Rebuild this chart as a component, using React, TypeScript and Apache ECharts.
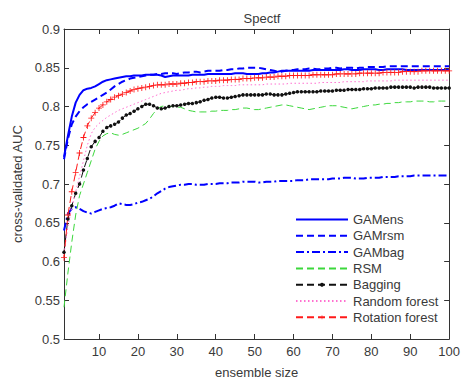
import React, { useEffect, useRef } from "react";
import * as echarts from "echarts";

const chartTitle = "Spectf";
const xName = "ensemble size";
const yName = "cross-validated AUC";
const xTicks = [10, 20, 30, 40, 50, 60, 70, 80, 90, 100];

const gamens = [
  0.735, 0.762, 0.787, 0.805, 0.815, 0.821, 0.823, 0.824, 0.826, 0.829,
  0.832, 0.834, 0.835, 0.836, 0.837, 0.838, 0.839, 0.839, 0.840, 0.840,
  0.840, 0.841, 0.841, 0.841, 0.841, 0.840, 0.838, 0.839, 0.840, 0.840,
  0.840, 0.840, 0.840, 0.841, 0.841, 0.841, 0.841, 0.842, 0.842, 0.842,
  0.842, 0.842, 0.842, 0.842, 0.843, 0.843, 0.843, 0.842, 0.842, 0.842,
  0.842, 0.843, 0.843, 0.844, 0.844, 0.845, 0.846, 0.846, 0.846, 0.846,
  0.846, 0.846, 0.846, 0.846, 0.847, 0.847, 0.847, 0.847, 0.847, 0.847,
  0.847, 0.847, 0.848, 0.848, 0.847, 0.847, 0.847, 0.848, 0.848, 0.848,
  0.848, 0.847, 0.847, 0.848, 0.848, 0.848, 0.848, 0.848, 0.847, 0.847,
  0.847, 0.847, 0.847, 0.847, 0.847, 0.847, 0.847, 0.847, 0.847, 0.847,
];

const gamrsm = [
  0.732, 0.758, 0.777, 0.787, 0.794, 0.799, 0.803, 0.806, 0.809, 0.812,
  0.815, 0.818, 0.822, 0.826, 0.829, 0.832, 0.834, 0.836, 0.837, 0.838,
  0.839, 0.840, 0.841, 0.841, 0.842, 0.842, 0.843, 0.843, 0.843, 0.842,
  0.843, 0.844, 0.844, 0.845, 0.845, 0.844, 0.845, 0.846, 0.846, 0.846,
  0.846, 0.847, 0.847, 0.848, 0.848, 0.849, 0.849, 0.850, 0.850, 0.850,
  0.850, 0.849, 0.848, 0.847, 0.846, 0.845, 0.845, 0.846, 0.847, 0.847,
  0.848, 0.848, 0.848, 0.849, 0.849, 0.848, 0.848, 0.849, 0.849, 0.850,
  0.850, 0.849, 0.850, 0.850, 0.850, 0.849, 0.850, 0.850, 0.851, 0.851,
  0.851, 0.851, 0.851, 0.852, 0.852, 0.852, 0.852, 0.852, 0.852, 0.852,
  0.852, 0.852, 0.852, 0.852, 0.852, 0.852, 0.852, 0.852, 0.852, 0.852,
];

const gambag = [
  0.640, 0.662, 0.668, 0.670, 0.668, 0.665, 0.663, 0.662, 0.664, 0.666,
  0.668, 0.669, 0.670, 0.672, 0.675, 0.674, 0.673, 0.673, 0.674, 0.676,
  0.677, 0.679, 0.681, 0.684, 0.688, 0.691, 0.694, 0.696, 0.697, 0.698,
  0.699, 0.699, 0.700, 0.700, 0.699, 0.699, 0.699, 0.700, 0.700, 0.700,
  0.701, 0.701, 0.701, 0.702, 0.702, 0.702, 0.703, 0.703, 0.703, 0.703,
  0.702, 0.702, 0.703, 0.703, 0.703, 0.704, 0.704, 0.704, 0.704, 0.704,
  0.705, 0.705, 0.705, 0.706, 0.706, 0.706, 0.706, 0.706, 0.706, 0.707,
  0.707, 0.707, 0.708, 0.708, 0.708, 0.707, 0.707, 0.707, 0.708, 0.708,
  0.708, 0.708, 0.709, 0.709, 0.709, 0.709, 0.710, 0.710, 0.710, 0.710,
  0.711, 0.711, 0.711, 0.711, 0.711, 0.711, 0.711, 0.711, 0.711, 0.711,
];

const rsm = [
  0.541, 0.585, 0.625, 0.660, 0.685, 0.700, 0.715, 0.730, 0.745, 0.755,
  0.762, 0.765, 0.766, 0.764, 0.763, 0.764, 0.766, 0.768, 0.770, 0.772,
  0.775, 0.778, 0.784, 0.791, 0.797, 0.800, 0.801, 0.800, 0.800, 0.799,
  0.799, 0.797, 0.795, 0.794, 0.793, 0.793, 0.793, 0.793, 0.794, 0.794,
  0.795, 0.795, 0.795, 0.796, 0.796, 0.797, 0.798, 0.798, 0.797, 0.796,
  0.796, 0.797, 0.798, 0.799, 0.800, 0.801, 0.802, 0.802, 0.801, 0.800,
  0.799, 0.798, 0.797, 0.796, 0.797, 0.798, 0.799, 0.800, 0.801, 0.801,
  0.801, 0.800, 0.799, 0.798, 0.797, 0.798, 0.799, 0.800, 0.801, 0.802,
  0.802, 0.803, 0.803, 0.804, 0.804, 0.805, 0.805, 0.806, 0.806, 0.806,
  0.807, 0.807, 0.807, 0.807, 0.806, 0.806, 0.807, 0.807, 0.807, 0.807,
];

const bagging = [
  0.612, 0.655, 0.672, 0.688, 0.700, 0.718, 0.733, 0.748, 0.755, 0.760,
  0.768, 0.773, 0.775, 0.777, 0.780, 0.785, 0.789, 0.791, 0.794, 0.797,
  0.800, 0.803, 0.803, 0.801, 0.798, 0.797, 0.798, 0.800, 0.801, 0.801,
  0.802, 0.803, 0.804, 0.804, 0.805, 0.806, 0.808, 0.809, 0.811, 0.812,
  0.812, 0.811, 0.811, 0.812, 0.813, 0.814, 0.815, 0.815, 0.815, 0.815,
  0.815, 0.815, 0.816, 0.816, 0.815, 0.815, 0.815, 0.816, 0.817, 0.818,
  0.819, 0.819, 0.819, 0.819, 0.819, 0.819, 0.820, 0.820, 0.820, 0.820,
  0.821, 0.821, 0.821, 0.822, 0.822, 0.822, 0.822, 0.823, 0.823, 0.823,
  0.824, 0.824, 0.824, 0.824, 0.825, 0.825, 0.825, 0.825, 0.825, 0.825,
  0.824, 0.825, 0.825, 0.825, 0.825, 0.824, 0.824, 0.824, 0.824, 0.824,
];

const randomForest = [
  0.610, 0.645, 0.670, 0.690, 0.710, 0.730, 0.750, 0.765, 0.773, 0.778,
  0.782, 0.786, 0.789, 0.792, 0.795, 0.797, 0.799, 0.801, 0.803, 0.805,
  0.807, 0.809, 0.811, 0.813, 0.815, 0.817, 0.818, 0.819, 0.820, 0.821,
  0.821, 0.822, 0.823, 0.823, 0.824, 0.824, 0.825, 0.825, 0.826, 0.826,
  0.826, 0.827, 0.827, 0.827, 0.827, 0.828, 0.828, 0.828, 0.828, 0.828,
  0.828, 0.828, 0.829, 0.829, 0.829, 0.829, 0.829, 0.829, 0.830, 0.830,
  0.830, 0.830, 0.830, 0.830, 0.830, 0.830, 0.831, 0.831, 0.831, 0.831,
  0.831, 0.831, 0.832, 0.832, 0.832, 0.832, 0.832, 0.832, 0.833, 0.833,
  0.833, 0.833, 0.833, 0.833, 0.833, 0.834, 0.834, 0.834, 0.834, 0.834,
  0.834, 0.834, 0.834, 0.834, 0.834, 0.834, 0.834, 0.834, 0.834, 0.834,
];

const rotationForest = [
  0.605, 0.660, 0.690, 0.715, 0.740, 0.760, 0.775, 0.785, 0.792, 0.798,
  0.802, 0.806, 0.809, 0.812, 0.814, 0.816, 0.818, 0.820, 0.822, 0.823,
  0.824, 0.825, 0.826, 0.827, 0.828, 0.828, 0.828, 0.829, 0.829, 0.829,
  0.830, 0.830, 0.831, 0.831, 0.832, 0.832, 0.832, 0.833, 0.833, 0.833,
  0.834, 0.834, 0.834, 0.835, 0.835, 0.835, 0.836, 0.836, 0.836, 0.837,
  0.837, 0.837, 0.838, 0.838, 0.838, 0.839, 0.839, 0.839, 0.840, 0.840,
  0.840, 0.840, 0.840, 0.840, 0.841, 0.841, 0.841, 0.841, 0.841, 0.841,
  0.842, 0.842, 0.842, 0.842, 0.842, 0.842, 0.843, 0.843, 0.843, 0.843,
  0.843, 0.843, 0.844, 0.844, 0.844, 0.844, 0.844, 0.845, 0.845, 0.845,
  0.845, 0.845, 0.846, 0.846, 0.846, 0.846, 0.846, 0.846, 0.846, 0.846,
];

const PLUS = "path://M-1,-0.14H1V0.14H-1Z M-0.14,-1H0.14V1H-0.14Z";
const FONT = "'Liberation Sans', Arial, sans-serif";
const TEXT = "#3a3a3a";
const AXIS = "#333";

function toPoints(vals: number[]) {
  return vals.map((v, i) => [i + 1, v]);
}

export default function App() {
  const ref = useRef<HTMLDivElement>(null);
  useEffect(() => {
    document.body.style.margin = "0";
    if (!ref.current) return;
    const chart = echarts.init(ref.current, undefined, { renderer: "svg" });
    const axisLine = { show: true, onZero: false, lineStyle: { color: AXIS, width: 1 } };
    const xBase = {
      type: "value" as const,
      min: 1,
      max: 100,
      axisLine,
      splitLine: { show: false },
      axisTick: { inside: true, length: 5, customValues: xTicks, lineStyle: { color: AXIS } },
    };
    const yBase = {
      type: "value" as const,
      min: 0.5,
      max: 0.9,
      interval: 0.05,
      axisLine,
      splitLine: { show: false },
      axisTick: { inside: true, length: 5, lineStyle: { color: AXIS } },
    };
    const lineSeries = (name: string, vals: number[], color: string, width: number, type: any, extra: any = {}) => ({
      name,
      type: "line",
      data: toPoints(vals),
      symbol: "none",
      lineStyle: { color, width, type },
      itemStyle: { color },
      z: 2,
      ...extra,
    });
    const hidden = { itemStyle: { opacity: 0 } };
    chart.setOption({
      animation: false,
      textStyle: { fontFamily: FONT },
      title: {
        text: chartTitle,
        left: 257,
        textAlign: "center",
        top: 7,
        textStyle: { fontSize: 13, fontWeight: "normal", color: TEXT, fontFamily: FONT },
      },
      grid: { left: 64, right: 13, top: 29, bottom: 45 },
      xAxis: [
        {
          ...xBase,
          position: "bottom",
          name: xName,
          nameLocation: "middle",
          nameGap: 27,
          nameTextStyle: { fontSize: 13, color: TEXT, fontFamily: FONT },
          axisLabel: { customValues: xTicks, fontSize: 13, color: TEXT, margin: 6, fontFamily: FONT },
        },
        { ...xBase, position: "top", axisLabel: { show: false } },
      ],
      yAxis: [
        {
          ...yBase,
          position: "left",
          name: yName,
          nameLocation: "middle",
          nameGap: 40,
          nameTextStyle: { fontSize: 13, color: TEXT, fontFamily: FONT },
          axisLabel: {
            fontSize: 13,
            color: TEXT,
            margin: 4,
            fontFamily: FONT,
            formatter: (v: number) => String(+v.toFixed(2)),
          },
        },
        { ...yBase, position: "right", axisLabel: { show: false } },
      ],
      legend: {
        orient: "vertical",
        left: 295,
        top: 213,
        itemWidth: 52,
        itemHeight: 5,
        itemGap: 3.3,
        padding: 0,
        textStyle: { fontSize: 13, color: TEXT, fontFamily: FONT },
        data: [
          { name: "GAMens", ...hidden },
          { name: "GAMrsm", ...hidden },
          { name: "GAMbag", ...hidden },
          { name: "RSM", ...hidden },
          { name: "Bagging" },
          { name: "Random forest", ...hidden },
          { name: "Rotation forest" },
        ],
      },
      series: [
        lineSeries("GAMens", gamens, "#0000ff", 2, "solid"),
        lineSeries("GAMrsm", gamrsm, "#0000ff", 2, [7, 4]),
        lineSeries("GAMbag", gambag, "#0000ff", 2, [8, 3, 2, 3]),
        lineSeries("RSM", rsm, "#3cd83c", 1, [7, 4]),
        lineSeries("Bagging", bagging, "#111111", 1, [7, 4], {
          symbol: "circle",
          symbolSize: 3.5,
          showSymbol: true,
        }),
        lineSeries("Random forest", randomForest, "#ff70d0", 1, [1.5, 2.5]),
        lineSeries("Rotation forest", rotationForest, "#ff1a1a", 1, [7, 4], {
          symbol: PLUS,
          symbolSize: 6,
          showSymbol: true,
        }),
      ],
    });
    return () => chart.dispose();
  }, []);
  return <div ref={ref} style={{ width: 463, height: 384 }} />;
}
